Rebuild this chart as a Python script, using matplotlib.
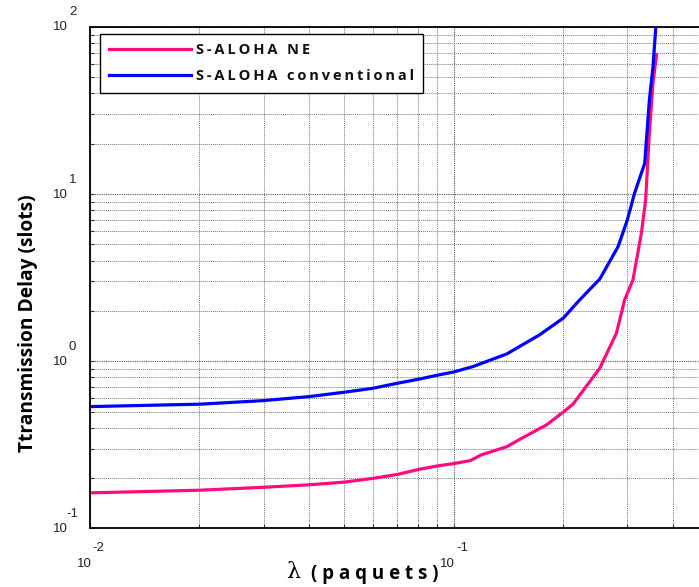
import matplotlib
matplotlib.use("Agg")
import matplotlib.pyplot as plt
from matplotlib.ticker import LogLocator, NullFormatter

# S-ALOHA conventional (blue)
lam_conv = [0.01, 0.02, 0.03, 0.04, 0.05, 0.06, 0.07, 0.08, 0.09, 0.1,
            0.113, 0.14, 0.172, 0.2, 0.222, 0.252, 0.283, 0.3, 0.314,
            0.335, 0.345, 0.353, 0.359]
delay_conv = [0.535, 0.553, 0.581, 0.614, 0.652, 0.689, 0.738, 0.780, 0.824, 0.862,
              0.929, 1.106, 1.436, 1.81, 2.33, 3.10, 4.85, 7.0, 10.1,
              15.3, 36.7, 58.0, 97.0]

# S-ALOHA NE (pink)
lam_ne = [0.01, 0.02, 0.03, 0.04, 0.05, 0.06, 0.07, 0.08, 0.09, 0.1,
          0.111, 0.119, 0.14, 0.152, 0.18, 0.2, 0.213, 0.252, 0.28,
          0.295, 0.311, 0.328, 0.337, 0.345, 0.353, 0.361]
delay_ne = [0.163, 0.169, 0.176, 0.182, 0.189, 0.199, 0.210, 0.225, 0.236, 0.244,
            0.254, 0.275, 0.308, 0.341, 0.416, 0.496, 0.555, 0.908, 1.47,
            2.33, 3.07, 5.84, 9.25, 23.2, 46.3, 68.3]

xticks = [0.01, 0.1]
xexp = ["-2", "-1"]
yticks = [0.1, 1, 10, 100]
yexp = ["-1", "0", "1", "2"]


def spaced(s):
    # the original uses letter-spaced bold text
    return "\u2009".join(s)


fig = plt.figure(figsize=(6.99, 5.87), dpi=100)
ax = fig.add_axes([90/699, (587-528.3)/587, (708-90)/699, (528.3-27)/587])

ax.plot(lam_ne, delay_ne, color="#ff0a7f", lw=2.3, label=spaced("S-ALOHA NE"))
ax.plot(lam_conv, delay_conv, color="#0000ff", lw=2.3, label=spaced("S-ALOHA conventional"))

ax.set_xscale("log")
ax.set_yscale("log")
ax.set_xlim(0.01, 0.5)
ax.set_ylim(0.1, 100)

ax.xaxis.set_minor_locator(LogLocator(base=10, subs=range(2, 10)))
ax.yaxis.set_minor_locator(LogLocator(base=10, subs=range(2, 10)))
ax.xaxis.set_major_formatter(NullFormatter())
ax.yaxis.set_major_formatter(NullFormatter())
ax.xaxis.set_minor_formatter(NullFormatter())
ax.yaxis.set_minor_formatter(NullFormatter())
ax.tick_params(which="both", direction="in", length=3, width=0.8, color="#333333")

ax.grid(True, which="major", color="#555555", linestyle=(0, (1, 1)), lw=0.8)
ax.grid(True, which="minor", color="#777777", linestyle=(0, (1, 1)), lw=0.7)
for s in ax.spines.values():
    s.set_linewidth(1.3)

# MATLAB-style tick labels: base and exponent as separate texts
tickfont = dict(family="Liberation Sans", fontsize=9.5, color="#222222")
for t, e in zip(xticks, xexp):
    ax.annotate("10", xy=(t, 0), xycoords=("data", "axes fraction"),
                xytext=(-4.3, -25.5), textcoords="offset points",
                ha="center", va="center", **tickfont)
    ax.annotate(e, xy=(t, 0), xycoords=("data", "axes fraction"),
                xytext=(6.3, -14.5), textcoords="offset points",
                ha="center", va="center", **tickfont)
for t, e in zip(yticks, yexp):
    ax.annotate("10", xy=(0, t), xycoords=("axes fraction", "data"),
                xytext=(-21.2, -0.3), textcoords="offset points",
                ha="center", va="center", **tickfont)
    ax.annotate(e, xy=(0, t), xycoords=("axes fraction", "data"),
                xytext=(-12.5, 10.5), textcoords="offset points",
                ha="center", va="center", **tickfont)

fig.text(28/699, 1 - 323/587, "Ttransmission Delay (slots)", rotation=90,
         ha="center", va="center", family="Open Sans", weight="bold", fontsize=13.8)
fig.text(293/699, 1 - 572/587, "λ", ha="center", va="center",
         family="DejaVu Serif", fontsize=16)
fig.text(375/699, 1 - 574/587, "( p a q u e t s )", ha="center", va="center",
         family="Open Sans", weight="bold", fontsize=13.5)

leg = ax.legend(loc="upper left", bbox_to_anchor=(100/699, 1 - 34/587),
                bbox_transform=fig.transFigure, borderaxespad=0,
                fancybox=False, framealpha=1, edgecolor="black",
                handlelength=5.6, handletextpad=0.3,
                labelspacing=0.8, borderpad=0.65,
                prop=dict(family="Open Sans", weight="bold", size=10.5))
leg.get_frame().set_linewidth(1.0)
for t in leg.get_texts():
    t.set_color("#111111")

fig.savefig("out.png", dpi=100)
